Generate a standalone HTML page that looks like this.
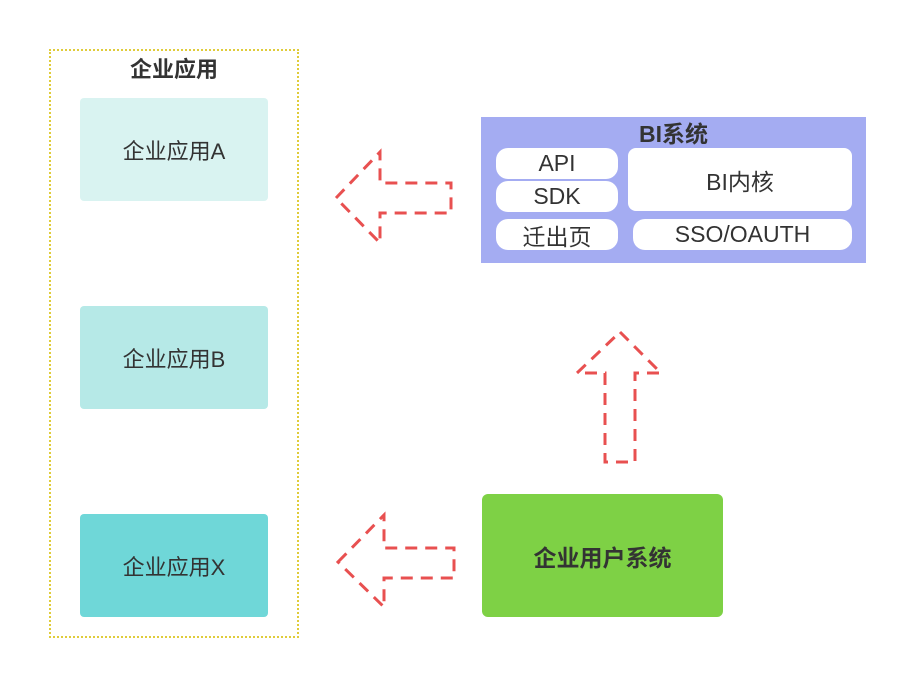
<!DOCTYPE html>
<html><head><meta charset="utf-8"><style>
body{margin:0;width:918px;height:688px;background:#fff;position:relative;overflow:hidden;font-family:"Liberation Sans","Noto Sans CJK SC",sans-serif;color:#333}
.a{position:absolute;display:flex;align-items:center;justify-content:center}
.box{border-radius:4px;font-size:22px}
.pill{background:#fff;border-radius:12px;font-size:23px}
</style></head><body>
<div style="position:absolute;left:49px;top:49px;width:246px;height:585px;border:2px dotted #e0cc3a"></div>
<div class="a" style="left:49px;top:52px;width:250px;height:32px;font-size:22px;font-weight:bold">企业应用</div>
<div class="a box" style="left:80px;top:98px;width:188px;height:103px;background:#d9f3f1">企业应用A</div>
<div class="a box" style="left:80px;top:306px;width:188px;height:103px;background:#b6e9e7">企业应用B</div>
<div class="a box" style="left:80px;top:514px;width:188px;height:103px;background:#6fd7d8">企业应用X</div>
<div style="position:absolute;left:481px;top:117px;width:385px;height:146px;background:#a4acf2"></div>
<div class="a" style="left:481px;top:116px;width:385px;height:32px;font-size:23px;font-weight:bold">BI系统</div>
<div class="a pill" style="left:496px;top:148px;width:122px;height:31px">API</div>
<div class="a pill" style="left:496px;top:181px;width:122px;height:31px">SDK</div>
<div class="a pill" style="left:496px;top:219px;width:122px;height:31px">迁出页</div>
<div class="a pill" style="left:628px;top:148px;width:224px;height:63px;border-radius:8px">BI内核</div>
<div class="a pill" style="left:633px;top:219px;width:219px;height:31px">SSO/OAUTH</div>
<div class="a" style="left:482px;top:494px;width:241px;height:123px;background:#7ed145;border-radius:6px;font-size:23px;font-weight:bold">企业用户系统</div>
<svg width="918" height="688" style="position:absolute;left:0;top:0" fill="none" stroke="#e85050" stroke-width="3" stroke-dasharray="12 8">
<polygon points="336,198 380,152 380,183 451,183 451,213 380,213 380,243"/>
<polygon points="620,332 661,373 635,373 635,462 605,462 605,373 577,373"/>
<polygon points="338,562 384,515 384,548 454,548 454,578 384,578 384,607"/>
</svg>
</body></html>
